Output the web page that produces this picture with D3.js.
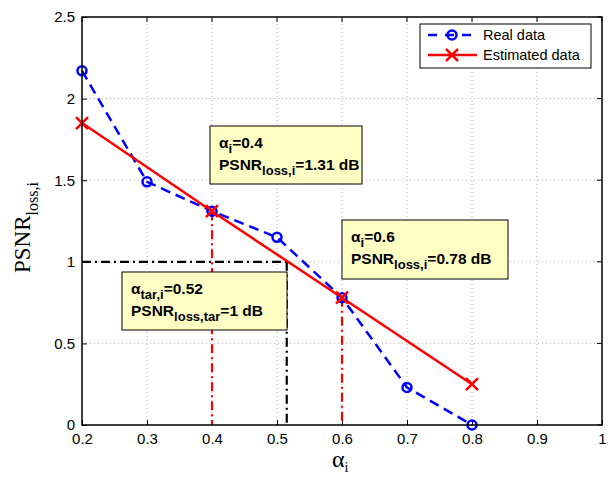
<!DOCTYPE html>
<html>
<head>
<meta charset="utf-8">
<script src="https://cdn.jsdelivr.net/npm/d3@7"></script>
<style>
  body { margin: 0; background: #fff; }
  svg { display: block; }
</style>
</head>
<body>
<div id="chart"></div>
<script>
var WIDTH = 610, HEIGHT = 477;

// data
var alphaReal = [0.2, 0.3, 0.4, 0.5, 0.6, 0.7, 0.8];
var psnrReal = [2.17, 1.49, 1.31, 1.15, 0.78, 0.23, 0.0];
var alphaEst = [0.2, 0.4, 0.6, 0.8];
var psnrEst = [1.85, 1.31, 0.78, 0.25];
var xTicks = [0.2, 0.3, 0.4, 0.5, 0.6, 0.7, 0.8, 0.9, 1];
var yTicks = [0, 0.5, 1, 1.5, 2, 2.5];
var alphaTar = 0.515, psnrTar = 1;
var markedAlpha = [0.4, 0.6];
var markedPsnr = [1.31, 0.78];

var margin = {left: 82, right: 8, top: 17, bottom: 52};

var svg = d3.select('#chart')
    .append('svg')
    .attr('width', WIDTH)
    .attr('height', HEIGHT);

var x = d3.scaleLinear().domain([0.2, 1]).range([margin.left, WIDTH - margin.right]);
var y = d3.scaleLinear().domain([0, 2.5]).range([HEIGHT - margin.bottom, margin.top]);

//dotted grid
var grid = svg.append('g').attr('class', 'grid')
    .attr('stroke', '#b0b0b0').attr('stroke-width', 1).attr('stroke-dasharray', '1,3');
grid.selectAll('line.gx').data(xTicks.slice(1, -1)).enter().append('line')
    .attr('x1', d => x(d)).attr('x2', d => x(d))
    .attr('y1', y(0)).attr('y2', y(2.5));
grid.selectAll('line.gy').data(yTicks.slice(1, -1)).enter().append('line')
    .attr('class', 'gy')
    .attr('x1', x(0.2)).attr('x2', x(1))
    .attr('y1', d => y(d)).attr('y2', d => y(d));

//axes
var xAxis = d3.axisBottom(x).tickValues(xTicks).tickSize(-5).tickPadding(8)
    .tickFormat(d => d === 1 ? '1' : d3.format('.1f')(d));
var yAxis = d3.axisLeft(y).tickValues(yTicks).tickSize(-5).tickPadding(7)
    .tickFormat(d => d === 0 ? '0' : (d % 1 === 0 ? String(d) : d3.format('.1f')(d)));

var gx = svg.append('g').attr('transform', `translate(0,${y(0)})`).call(xAxis);
var gy = svg.append('g').attr('transform', `translate(${x(0.2)},0)`).call(yAxis);
[gx, gy].forEach(function(g) {
    g.select('.domain').remove();
    g.selectAll('line').attr('stroke', '#000');
    g.selectAll('text')
        .style('font-family', 'Liberation Sans, Arial, sans-serif')
        .style('font-size', '15px')
        .attr('fill', '#000');
});
//top and right ticks
svg.append('g').selectAll('line').data(xTicks).enter().append('line')
    .attr('x1', d => x(d)).attr('x2', d => x(d))
    .attr('y1', y(2.5)).attr('y2', y(2.5) + 5).attr('stroke', '#000');
svg.append('g').selectAll('line').data(yTicks).enter().append('line')
    .attr('x1', x(1)).attr('x2', x(1) - 5)
    .attr('y1', d => y(d)).attr('y2', d => y(d)).attr('stroke', '#000');

//target dashed lines (black)
var tar = svg.append('g').attr('stroke', '#000').attr('stroke-width', 2.2)
    .attr('stroke-dasharray', '9,4,2,4').attr('fill', 'none');
tar.append('line')
    .attr('x1', x(0.2)).attr('x2', x(alphaTar))
    .attr('y1', y(psnrTar)).attr('y2', y(psnrTar));
tar.append('line')
    .attr('x1', x(alphaTar)).attr('x2', x(alphaTar))
    .attr('y1', y(psnrTar)).attr('y2', y(0));

//red dash-dot drop lines
svg.append('g').selectAll('line').data(markedAlpha).enter().append('line')
    .attr('x1', d => x(d)).attr('x2', d => x(d))
    .attr('y1', (d, i) => y(markedPsnr[i])).attr('y2', y(0))
    .attr('stroke', '#ff0000').attr('stroke-width', 2.2)
    .attr('stroke-dasharray', '9,4,2,4');

var realPts = alphaReal.map((a, i) => [a, psnrReal[i]]);
var estPts = alphaEst.map((a, i) => [a, psnrEst[i]]);
var line = d3.line().x(d => x(d[0])).y(d => y(d[1]));

//real data (blue dashed)
svg.append('path').datum(realPts)
    .attr('d', line)
    .attr('fill', 'none')
    .attr('stroke', '#0000ff')
    .attr('stroke-width', 2.5)
    .attr('stroke-dasharray', '10,6');
//estimated (red solid)
svg.append('path').datum(estPts)
    .attr('d', line)
    .attr('fill', 'none')
    .attr('stroke', '#ff0000')
    .attr('stroke-width', 2.5);

svg.append('g').selectAll('circle').data(realPts).enter().append('circle')
    .attr('cx', d => x(d[0])).attr('cy', d => y(d[1]))
    .attr('r', 4.5)
    .attr('fill', 'none').attr('stroke', '#0000ff').attr('stroke-width', 2.5);

function cross(g, cx, cy, s) {
    g.append('path')
        .attr('d', `M${cx - s},${cy - s}L${cx + s},${cy + s}M${cx - s},${cy + s}L${cx + s},${cy - s}`)
        .attr('stroke', '#ff0000').attr('stroke-width', 2.5).attr('fill', 'none');
}
var crossG = svg.append('g');
estPts.forEach(d => cross(crossG, x(d[0]), y(d[1]), 6));

//frame
svg.append('rect')
    .attr('x', x(0.2)).attr('y', y(2.5))
    .attr('width', x(1) - x(0.2)).attr('height', y(0) - y(2.5))
    .attr('fill', 'none').attr('stroke', '#000').attr('stroke-width', 1.5);

//text with subscripts: parts = [[text, isSub], ...]
function richText(g, tx, ty, parts, size, subSize, family, weight, shift) {
    shift = shift || size * 0.35;
    var t = g.append('text')
        .attr('x', tx).attr('y', ty)
        .style('font-family', family)
        .style('font-size', size + 'px')
        .style('font-weight', weight || 'normal')
        .attr('fill', '#000');
    var down = false;
    parts.forEach(function(p) {
        var ts = t.append('tspan').text(p[0]);
        if (p[1]) {
            ts.style('font-size', subSize + 'px');
            if (!down) { ts.attr('dy', shift); down = true; }
        } else {
            ts.style('font-size', size + 'px');
            if (down) { ts.attr('dy', -shift); down = false; }
        }
    });
    return t;
}

//annotation boxes
var ANNO_FONT = 'Liberation Sans, Arial, sans-serif';
var boxes = [
    {x: 210, y: 126, w: 152, h: 58, lines: [
        [['α', 0], ['i', 1], ['=0.4', 0]],
        [['PSNR', 0], ['loss,i', 1], ['=1.31 dB', 0]]]},
    {x: 342, y: 220, w: 166, h: 59, lines: [
        [['α', 0], ['i', 1], ['=0.6', 0]],
        [['PSNR', 0], ['loss,i', 1], ['=0.78 dB', 0]]]},
    {x: 122, y: 272, w: 165, h: 58, lines: [
        [['α', 0], ['tar,i', 1], ['=0.52', 0]],
        [['PSNR', 0], ['loss,tar', 1], ['=1 dB', 0]]]}
];
boxes.forEach(function(b) {
    var g = svg.append('g');
    g.append('rect')
        .attr('x', b.x).attr('y', b.y).attr('width', b.w).attr('height', b.h)
        .attr('fill', '#ffffc4').attr('stroke', '#000').attr('stroke-width', 1);
    b.lines.forEach(function(l, i) {
        richText(g, b.x + 9, b.y + 22 + i * 22, l, 15.5, 13, ANNO_FONT, 'bold');
    });
});

//legend
var leg = svg.append('g');
leg.append('rect')
    .attr('x', 420).attr('y', 24).attr('width', 171).attr('height', 44)
    .attr('fill', '#fff').attr('stroke', '#000').attr('stroke-width', 1);
leg.append('line')
    .attr('x1', 428).attr('x2', 477).attr('y1', 35).attr('y2', 35)
    .attr('stroke', '#0000ff').attr('stroke-width', 2.5).attr('stroke-dasharray', '9,8');
leg.append('circle').attr('cx', 452).attr('cy', 35).attr('r', 4.5)
    .attr('fill', 'none').attr('stroke', '#0000ff').attr('stroke-width', 2.5);
leg.append('line')
    .attr('x1', 428).attr('x2', 477).attr('y1', 55).attr('y2', 55)
    .attr('stroke', '#ff0000').attr('stroke-width', 2.5);
cross(leg, 452, 55, 6);
leg.append('text').attr('x', 483).attr('y', 40).text('Real data')
    .style('font-family', ANNO_FONT).style('font-size', '14.5px');
leg.append('text').attr('x', 483).attr('y', 60).text('Estimated data')
    .style('font-family', ANNO_FONT).style('font-size', '14.5px');

//axis labels
var SERIF = 'Liberation Serif, Times New Roman, serif';
var yl = svg.append('g').attr('transform', 'translate(30,273) rotate(-90)');
richText(yl, 0, 0, [['PSNR', 0], ['loss,i', 1]], 23, 16, SERIF);
richText(svg, 332, 467, [['α', 0], ['i', 1]], 24, 14, SERIF, 'normal', 5);
</script>
</body>
</html>
